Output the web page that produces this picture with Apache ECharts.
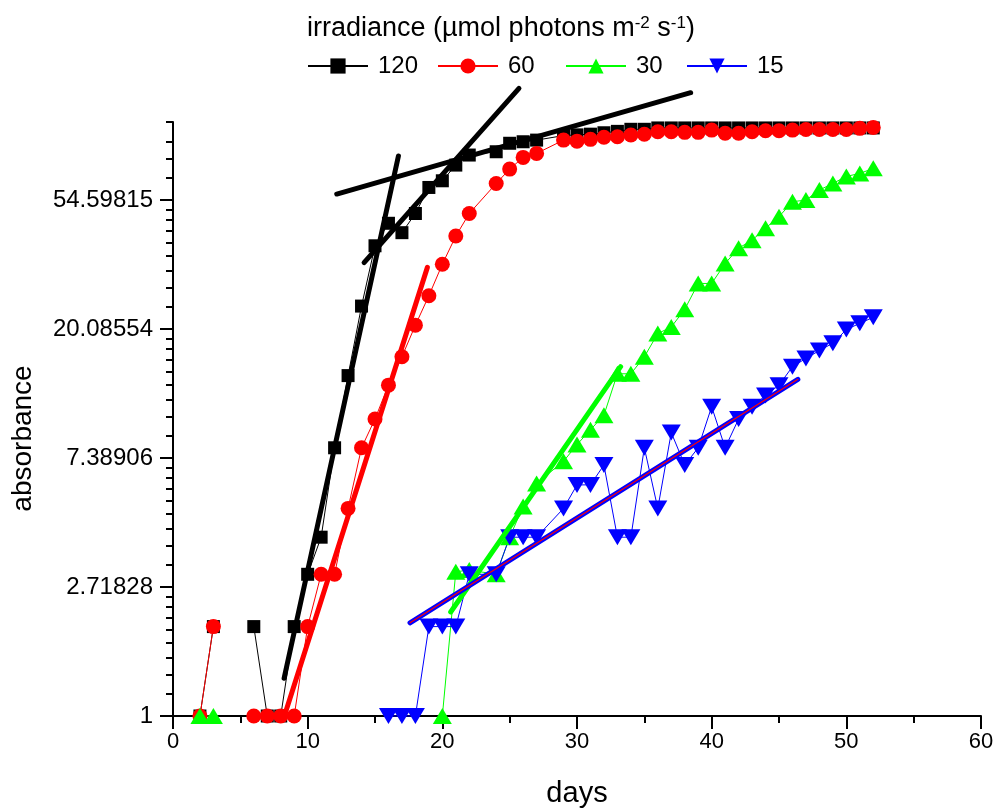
<!DOCTYPE html>
<html><head><meta charset="utf-8">
<script src="https://cdn.jsdelivr.net/npm/echarts@6/dist/echarts.min.js"></script>
<style>html,body{margin:0;padding:0;background:#fff}#c{width:997px;height:808px}</style>
</head><body><div id="c"></div>
<script>
const FONT = '"Liberation Sans", Arial, Helvetica, sans-serif';

// ---- data (days, absorbance) ----
const days120 = [2,3,4,6,7,8,9,10,11,12,13,14,15,16,17,18,19,20,21,22,24,25,26,27,29,30,31,32,33,34,35,36,37,38,39,40,41,42,43,44,45,46,47,48,49,50,51,52];
const abs120  = [1,2,null,2,1,1,2,3,4,8,14,24,38.3,45.6,42.4,49.2,60.2,63.4,71.6,77.4,79.4,84.8,85.8,86.9,90,90.5,91,92,93,94.5,94.5,95.5,95.5,95.5,95.5,95.5,95.5,95.5,95.5,95.5,95.5,95.5,95.5,95.5,95.5,95.5,95.5,95.5];

const days60 = [2,3,4,6,7,8,9,10,11,12,13,14,15,16,17,18,19,20,21,22,24,25,26,27,29,30,31,32,33,34,35,36,37,38,39,40,41,42,43,44,45,46,47,48,49,50,51,52];
const abs60  = [1,2,null,1,1,1,1,2,3,3,5,8,10,13,16.2,20.7,26,33.2,41.3,49.2,62.1,69.4,76,78.4,86.9,86.2,87.4,88.8,89.2,90.4,90.9,92.7,92.7,92.3,92.3,93.9,91.6,91.6,92.7,93.4,93.4,93.9,94.4,94.4,94.4,94.4,95.2,95.9];

const days30 = [2,3,4,20,21,22,24,25,26,27,29,30,31,32,33,34,35,36,37,38,39,40,41,42,43,44,45,46,47,48,49,50,51,52];
const abs30  = [1,1,null,1,3.06,3.1,3.0,4.0,5.07,6.07,7.2,8.2,9.2,10.3,14.2,14.2,16.2,19.4,20.4,23.4,28.6,28.6,33.4,37.6,40,43.9,48,53.9,54.6,59,62.1,65.6,67.1,69.8];

const days15 = [16,17,18,19,20,21,22,24,25,26,27,29,30,31,32,33,34,35,36,37,38,39,40,41,42,43,44,45,46,47,48,49,50,51,52];
const abs15  = [1,1,1,2,2,2,3,3,4,4,4,5,6,6,7,4,4,8,5,9,7,8,11,8,10,11,12,13,15,16,17,18,20,21,22];

// ---- fitted lines (end points) ----
const fit120aX = [8.25, 16.74],  fit120aY = [1.34, 76.8];
const fit120bX = [14.19, 25.69], fit120bY = [33.6, 129.8];
const fit120cX = [12.16, 38.44], fit120cY = [57.2, 125.5];
const fit60X   = [8.27, 18.89],  fit60Y   = [1.0, 32.4];
const fit30X   = [20.62, 33.24], fit30Y   = [2.24, 15.0];
const fit15X   = [17.6, 46.4],   fit15Y   = [2.06, 13.6];

// ---- axis ticks ----
const xTicks = [0, 10, 20, 30, 40, 50, 60];
const yTickLabels = ['1', '2.71828', '7.38906', '20.08554', '54.59815'];
const yMin = 1, yMax = 100;

const seriesNames = ['120', '60', '30', '15'];
const legendTitle = 'irradiance (µmol photons m{sup|-2} s{sup|-1})';

// ---- build ----
const pairs = (xs, ys) => xs.map((x, i) => [x, ys[i]]);
const yTickVals = yTickLabels.map(Number);
const majors = [0,1,2,3,4,5].map(k => Math.exp(k));
const yMinorVals = [];
for (let k = 0; k < majors.length - 1; k++) {
  for (let j = 1; j < 9; j++) {
    const v = majors[k] + j * (majors[k+1] - majors[k]) / 9;
    if (v < 90) yMinorVals.push(v);
  }
}
yMinorVals.push(yMax);

const chart = echarts.init(document.getElementById('c'), null, {renderer: 'canvas'});

function dataSeries(name, xs, ys, color, symbol, size, rotate) {
  return {
    type: 'line', name, data: pairs(xs, ys), clip: false,
    symbol, symbolSize: size, symbolRotate: rotate || 0, showAllSymbol: true,
    connectNulls: false,
    lineStyle: {color, width: 1}, itemStyle: {color, borderWidth: 0},
    emphasis: {disabled: true}, z: 2
  };
}
function fitSeries(xs, ys, color, width, z) {
  return {
    type: 'line', data: pairs(xs, ys), clip: false, symbol: 'none',
    lineStyle: {color, width, cap: 'round'}, silent: true,
    emphasis: {disabled: true}, z: z || 3
  };
}
function legendFor(name, left) {
  return {
    data: [name], left, top: 54, itemWidth: 60, itemHeight: 19, itemGap: 0,
    selectedMode: false, padding: 0,
    textStyle: {fontFamily: FONT, fontSize: 24, color: '#000', padding: [0, 0, 0, 5]}
  };
}

const option = {
  animation: false,
  backgroundColor: '#fff',
  title: {
    text: legendTitle, left: 302, top: 10,
    textStyle: {
      fontFamily: FONT, fontSize: 27, fontWeight: 'normal', color: '#000',
      rich: {sup: {fontFamily: FONT, fontSize: 17, color: '#000', verticalAlign: 'top'}}
    }
  },
  legend: [
    legendFor(seriesNames[0], 307),
    legendFor(seriesNames[1], 437),
    legendFor(seriesNames[2], 565),
    legendFor(seriesNames[3], 686)
  ],
  grid: {left: 173, top: 122, width: 808, height: 594, containLabel: false, outerBoundsMode: 'none'},
  xAxis: {
    type: 'value', min: xTicks[0], max: xTicks[xTicks.length - 1], interval: 10,
    axisLine: {onZero: false, lineStyle: {color: '#000', width: 2}},
    axisTick: {length: 13, lineStyle: {color: '#000', width: 2}},
    minorTick: {show: true, splitNumber: 2, length: 7, lineStyle: {color: '#000', width: 2}},
    axisLabel: {fontFamily: FONT, fontSize: 22, color: '#000', margin: 15},
    splitLine: {show: false}, minorSplitLine: {show: false},
    name: 'days', nameLocation: 'middle', nameGap: 63,
    nameTextStyle: {fontFamily: FONT, fontSize: 29, color: '#000'}
  },
  yAxis: [{
    type: 'log', logBase: Math.E, min: yMin, max: yMax, position: 'left',
    axisLine: {show: true, lineStyle: {color: '#000', width: 2}},
    axisTick: {show: true, customValues: yTickVals, length: 13, lineStyle: {color: '#000', width: 2}},
    axisLabel: {
      customValues: yTickVals, fontFamily: FONT, fontSize: 24, color: '#000', margin: 20,
      formatter: v => {
        let best = 0;
        yTickVals.forEach((t, i) => { if (Math.abs(Math.log(t) - Math.log(v)) < Math.abs(Math.log(yTickVals[best]) - Math.log(v))) best = i; });
        return yTickLabels[best];
      }
    },
    splitLine: {show: false},
    name: 'absorbance', nameLocation: 'middle', nameGap: 136,
    nameTextStyle: {fontFamily: FONT, fontSize: 28, color: '#000', padding: [0, 39, 0, 0]}
  }, {
    type: 'log', logBase: Math.E, min: yMin, max: yMax, position: 'left', offset: 0,
    axisLine: {show: false},
    axisTick: {show: true, customValues: yMinorVals, length: 7, lineStyle: {color: '#000', width: 2}},
    axisLabel: {show: false},
    splitLine: {show: false}
  }],
  series: [
    dataSeries(seriesNames[0], days120, abs120, '#000000', 'rect', 13),
    dataSeries(seriesNames[1], days60, abs60, '#ff0000', 'circle', 15),
    dataSeries(seriesNames[2], days30, abs30, '#00ff00', 'triangle', [19, 16]),
    dataSeries(seriesNames[3], days15, abs15, '#0000ff', 'triangle', [19, 16], 180),
    fitSeries(fit120aX, fit120aY, '#000000', 5),
    fitSeries(fit120bX, fit120bY, '#000000', 5),
    fitSeries(fit120cX, fit120cY, '#000000', 5),
    fitSeries(fit60X, fit60Y, '#ff0000', 5),
    fitSeries(fit30X, fit30Y, '#00ff00', 5),
    fitSeries(fit15X, fit15Y, '#0000ff', 5, 3),
    fitSeries(fit15X, fit15Y, '#ff0000', 1.2, 4)
  ]
};
chart.setOption(option);
</script>
</body></html>
